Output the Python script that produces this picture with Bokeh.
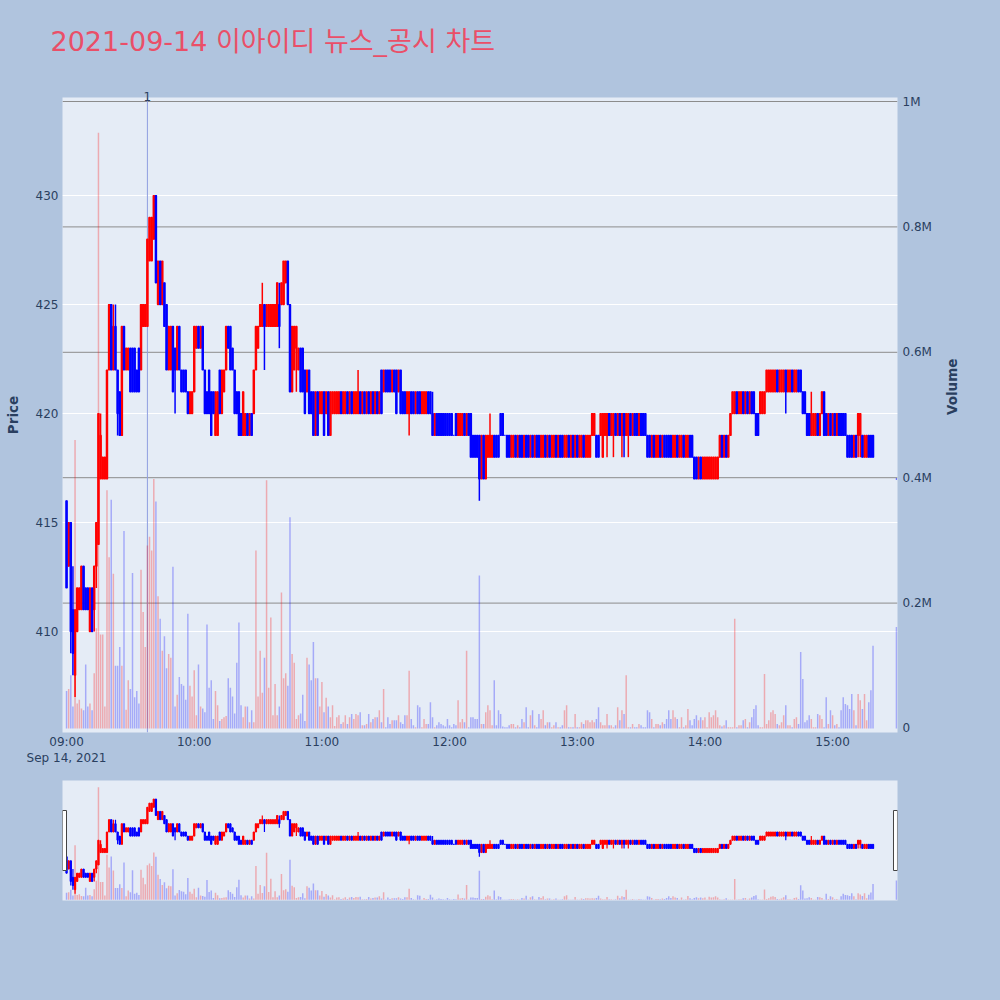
import calendar
import math
from datetime import datetime, timedelta
from bokeh.plotting import figure
from bokeh.layouts import column
from bokeh.models import (ColumnDataSource, Range1d, LinearAxis, FixedTicker,
                          DatetimeTickFormatter, Span)
from bokeh.embed import file_html
from bokeh.resources import INLINE

title_text = "2021-09-14 이아이디 뉴스_공시 차트"
session_start = "2021-09-14 09:00"
closing_time = "2021-09-14 15:30"

# one candle per minute from 09:00 to 15:19, plus the 15:30 closing auction
opens = [
    416,413,415,411,408,410,411,411,413,412, 412,410,412,411,413,414,417,417,417,417,
    422,425,422,424,422,421,419,424,422,422, 423,423,423,422,423,422,424,424,424,427,
    427,428,430,425,427,425,426,425,422,422, 424,423,422,424,422,422,422,421,420,420,
    421,423,424,423,424,422,421,422,421,421, 419,419,422,420,421,422,424,424,423,422,
    421,421,420,419,419,420,419,420,420,422, 423,424,424,425,424,424,424,424,424,424,
    425,425,425,426,427,425,421,422,423,422, 423,423,422,421,422,421,421,419,421,420,
    420,421,420,421,419,420,420,420,420,421, 420,420,421,420,421,420,420,420,421,420,
    421,420,421,420,421,420,421,420,422,421, 422,422,422,421,422,422,421,422,421,421,
    420,420,421,421,420,421,421,420,420,420, 421,421,420,419,420,420,420,420,420,420,
    420,420,419,420,419,419,419,420,419,420, 420,419,419,419,419,417,419,417,418,418,
    418,419,419,419,420,420,419,419,419,418, 418,419,418,419,419,418,419,419,418,419,
    418,419,419,418,418,419,418,419,418,418, 419,418,419,419,418,418,419,418,419,418,
    419,418,418,419,418,418,418,419,419,419, 419,419,418,419,419,420,419,419,420,419,
    420,419,420,419,419,420,419,420,420,419, 420,420,420,419,419,418,419,418,418,419,
    418,419,419,419,419,418,418,419,418,418, 419,418,418,419,419,418,418,417,418,417,
    417,417,417,417,417,417,417,418,419,418, 419,418,419,420,420,421,420,420,421,420,
    421,420,421,421,420,420,420,420,420,421, 421,421,421,421,422,421,421,421,422,421,
    421,422,421,421,422,422,421,421,420,420, 419,419,419,420,419,420,421,420,419,420,
    419,420,419,420,420,420,420,419,419,419, 418,419,419,419,419,418,418,419,419,419,
    417]
closes = [
    412,415,410,409,411,412,412,413,411,411, 411,412,410,413,415,420,419,418,418,422,
    425,422,424,422,420,419,424,422,423,423, 421,421,421,421,421,425,425,425,428,429,
    429,430,426,427,425,427,424,422,424,424, 421,422,424,422,421,421,421,420,421,421,
    424,424,423,424,422,420,420,420,419,420, 421,421,420,422,422,424,423,422,422,420,
    420,419,419,421,420,419,420,419,422,424, 424,425,425,424,425,425,425,425,425,426,
    424,426,427,427,425,421,424,424,424,423, 421,421,420,422,420,420,419,421,419,421,
    421,419,421,419,421,421,421,421,421,420, 421,421,420,421,420,421,421,421,420,421,
    420,421,420,421,420,421,420,421,420,422, 421,421,421,422,421,420,422,420,420,420,
    421,421,420,420,421,420,420,421,421,421, 420,420,419,420,419,419,419,419,419,419,
    419,419,419,419,420,420,420,419,420,419, 418,418,418,418,417,419,417,419,419,419,
    419,418,418,418,419,419,419,418,418,419, 419,418,419,418,418,419,418,418,419,418,
    419,418,418,419,419,418,419,418,419,419, 418,419,418,418,419,419,418,419,418,419,
    418,419,419,418,419,419,419,420,420,418, 418,420,420,420,420,419,420,420,419,420,
    419,420,419,420,420,419,420,419,419,420, 419,419,419,418,418,419,418,419,419,418,
    419,418,418,418,418,419,419,418,419,419, 418,419,419,418,418,417,417,418,417,418,
    418,418,418,418,418,418,418,419,418,419, 418,419,420,421,421,420,421,421,420,421,
    420,421,420,420,419,419,421,421,421,422, 422,422,422,422,421,422,422,422,421,422,
    422,421,422,422,421,421,420,420,419,419, 420,420,420,419,420,421,419,419,420,419,
    420,419,420,419,419,419,419,418,418,418, 419,418,420,420,418,419,419,418,418,418,
    417]
highs = [
    416,415,415,413,411,412,412,413,413,412, 412,412,412,413,415,420,420,418,418,422,
    425,425,425,425,422,421,424,424,423,423, 423,423,423,422,423,425,425,425,428,429,
    429,430,430,427,427,427,426,425,424,424, 424,423,424,424,422,422,422,421,421,421,
    424,424,424,424,424,422,421,422,421,421, 421,421,422,422,422,424,424,424,423,422,
    421,421,420,421,420,420,420,420,422,424, 424,425,426,425,425,425,425,425,425,426,
    426,426,427,427,427,425,424,424,424,423, 423,423,422,422,422,421,421,421,421,421,
    421,421,421,421,421,421,421,421,421,421, 421,421,421,421,421,421,421,422,421,421,
    421,421,421,421,421,421,421,421,422,422, 422,422,422,422,422,422,422,422,421,421,
    421,421,421,421,421,421,421,421,421,421, 421,421,421,420,420,420,420,420,420,420,
    420,420,419,420,420,420,420,420,420,420, 420,419,419,419,419,419,419,419,419,420,
    419,419,419,419,420,420,419,419,419,419, 419,419,419,419,419,419,419,419,419,419,
    419,419,419,419,419,419,419,419,419,419, 419,419,419,419,419,419,419,419,419,419,
    419,419,419,419,419,419,419,420,420,419, 419,420,420,420,420,420,420,420,420,420,
    420,420,420,420,420,420,420,420,420,420, 420,420,420,419,419,419,419,419,419,419,
    419,419,419,419,419,419,419,419,419,419, 419,419,419,419,419,418,418,418,418,418,
    418,418,418,418,418,418,418,419,419,419, 419,419,420,421,421,421,421,421,421,421,
    421,421,421,421,420,420,421,421,421,422, 422,422,422,422,422,422,422,422,422,422,
    422,422,422,422,422,422,421,421,420,420, 421,420,420,420,420,421,421,420,420,420,
    420,420,420,420,420,420,420,419,419,419, 419,419,420,420,419,419,419,419,419,419,
    417]
lows = [
    412,413,409,408,407,410,411,411,411,411, 411,410,410,410,412,414,417,417,417,417,
    422,422,422,422,419,419,419,422,422,422, 421,421,421,421,421,422,424,424,424,427,
    427,428,426,425,425,425,424,422,422,422, 421,420,422,422,421,421,421,420,420,420,
    421,423,423,423,422,420,420,420,419,420, 419,419,420,420,421,422,423,422,422,420,
    420,419,419,419,419,419,419,419,420,422, 423,424,424,422,424,424,424,424,424,424,
    423,425,425,426,425,421,421,422,421,422, 421,421,420,421,420,420,419,419,419,420,
    420,419,420,419,419,420,420,420,420,420, 420,420,420,420,420,420,420,420,420,420,
    420,420,420,420,420,420,420,420,420,421, 421,421,421,421,421,420,421,420,420,420,
    420,419,420,420,420,420,420,420,420,420, 420,420,419,419,419,419,419,419,419,419,
    419,419,419,419,419,419,419,419,419,419, 418,418,418,418,416,417,417,417,418,418,
    418,418,418,418,419,419,419,418,418,418, 418,418,418,418,418,418,418,418,418,418,
    418,418,418,418,418,418,418,418,418,418, 418,418,418,418,418,418,418,418,418,418,
    418,418,418,418,418,418,418,419,419,418, 418,419,418,419,418,419,419,418,419,419,
    419,418,418,419,418,419,419,419,419,419, 419,419,419,418,418,418,418,418,418,418,
    418,418,418,418,418,418,418,418,418,418, 418,418,418,418,418,417,417,417,417,417,
    417,417,417,417,417,417,417,418,418,418, 418,418,419,420,420,420,420,420,420,420,
    420,420,420,420,419,419,420,420,420,421, 421,421,421,421,421,421,421,421,420,421,
    421,421,421,421,421,421,420,420,419,419, 419,419,419,419,419,420,419,419,419,419,
    419,419,419,419,419,419,419,418,418,418, 418,418,418,418,418,418,418,418,418,418,
    417]
volumes_k = [
    60,63,85,35,460,40,46,32,29,102, 35,40,29,88,160,950,150,150,35,380,
    273,365,247,100,100,130,100,315,30,77, 63,248,50,60,40,253,186,130,292,306,
    284,398,362,211,175,124,147,96,119,113, 258,35,54,82,71,68,46,183,68,51,
    93,21,102,35,32,26,166,65,77,15, 60,37,12,15,18,20,80,65,51,24,
    105,169,37,18,35,35,10,29,10,284, 51,124,57,113,396,65,177,21,71,21,
    35,217,80,88,68,337,119,105,15,21, 24,54,12,113,102,77,138,80,80,35,
    74,26,49,35,18,37,4,18,21,7, 10,21,7,18,23,15,23,21,26,5,
    5,7,23,10,15,18,18,29,10,63, 2,18,7,13,13,13,21,10,7,21,
    21,92,15,5,2,37,34,2,15,7, 7,42,18,2,5,10,7,5,3,15,
    5,2,7,5,45,10,15,10,124,2, 18,18,15,15,244,7,7,26,37,29,
    5,77,5,29,23,3,2,2,5,7, 7,2,5,2,15,10,34,2,21,29,
    5,2,23,15,29,5,10,10,2,5, 10,2,2,5,29,37,2,2,2,23,
    2,2,10,7,13,13,10,13,10,15, 34,10,5,5,23,5,5,2,5,34,
    13,29,23,85,2,2,7,2,2,7, 5,2,2,29,26,15,2,7,7,5,
    10,7,15,29,15,29,18,15,2,18, 2,5,31,13,5,15,21,13,18,13,
    18,2,26,18,21,29,18,5,3,5, 13,2,2,2,175,2,5,5,13,15,
    2,10,18,31,37,5,2,2,87,7, 13,26,29,23,7,5,10,21,37,5,
    5,2,15,18,7,122,79,10,13,21, 15,2,2,23,21,15,2,50,7,29,
    21,5,7,2,29,50,39,37,31,55, 29,5,55,45,31,55,13,42,61,132,
    162]

news_times = ["2021-09-14 09:38"]
news_labels = ["1"]
price_ticks = [410, 415, 420, 425, 430]
volume_ticks = [0, 200000, 400000, 600000, 800000, 1000000]
volume_tick_labels = ["0", "0.2M", "0.4M", "0.6M", "0.8M", "1M"]
hour_ticks = ["09:00", "10:00", "11:00", "12:00", "13:00", "14:00", "15:00"]


def parse(s):
    return datetime.strptime(s, "%Y-%m-%d %H:%M")


def to_ms(d):
    return calendar.timegm(d.timetuple()) * 1000.0


MIN = 60000.0
t0 = parse(session_start)
n_cont = len(opens) - 1
times = [t0 + timedelta(minutes=i) for i in range(n_cont)] + [parse(closing_time)]
xs_ms = [to_ms(t) for t in times]
is_up = [c > o for o, c in zip(opens, closes)]


def make_src(flag):
    idx = [i for i in range(len(opens)) if is_up[i] == flag]
    return ColumnDataSource(dict(
        x=[xs_ms[i] for i in idx],
        top=[max(opens[i], closes[i]) for i in idx],
        bottom=[min(opens[i], closes[i]) for i in idx],
        high=[highs[i] for i in idx],
        low=[lows[i] for i in idx],
        vol=[volumes_k[i] * 1000 for i in idx],
    ))


up_src = make_src(True)
dn_src = make_src(False)

UP = "#FF0000"
DN = "#0000FF"
BG = "#B0C4DE"
PLOT_BG = "#E5ECF6"
TXT = "#2a3f5f"
FONT = "DejaVu Sans"

x_start = to_ms(t0) - 1.9 * MIN
x_end = to_ms(t0) + 390.5 * MIN
p_lo, p_hi = 405.37, 434.5
v_lo, v_hi = -6380, 1006380

# ---------------- title strip ----------------
p0 = figure(width=992, height=60, title=title_text,
            x_axis_location=None, y_axis_location=None,
            output_backend="svg", toolbar_location=None,
            min_border_left=62, min_border_right=95, min_border_top=56, min_border_bottom=0,
            background_fill_color=BG, border_fill_color=BG, outline_line_color=None)
p0.grid.visible = False
p0.title.text_font = "DejaVu Sans, Noto Sans CJK KR"
p0.title.text_font_size = "27px"
p0.title.text_font_style = "normal"
p0.title.text_color = "#EA4F68"
p0.title.align = "left"
p0.title.offset = -12
p0.title.standoff = 0

# ---------------- main chart ----------------
p = figure(width=992, height=710, x_axis_type="datetime", title=None,
           x_range=Range1d(x_start, x_end), y_range=Range1d(p_lo, p_hi),
           output_backend="svg", toolbar_location=None,
           min_border_left=62, min_border_right=95, min_border_top=37, min_border_bottom=38,
           background_fill_color=PLOT_BG, border_fill_color=BG, outline_line_color=None)
p.extra_y_ranges = {"vol": Range1d(v_lo, v_hi)}

p.xgrid.visible = False
p.ygrid.ticker = FixedTicker(ticks=price_ticks)
p.ygrid.grid_line_color = "white"
p.ygrid.grid_line_width = 1

for v in volume_ticks[1:]:
    p.add_layout(Span(location=v, dimension="width", y_range_name="vol",
                      line_color="#8c8c8c", line_width=1, level="underlay"))

news_ms = [to_ms(parse(t)) for t in news_times]
for tm in news_ms:
    p.add_layout(Span(location=tm, dimension="height", line_color="#8E9EE0",
                      line_width=1, level="underlay"))

for s, col in ((up_src, UP), (dn_src, DN)):
    p.vbar(x="x", top="vol", bottom=0, width=0.7 * MIN, source=s, y_range_name="vol",
           fill_color=col, fill_alpha=0.28, line_color=None)
for s, col in ((up_src, UP), (dn_src, DN)):
    p.segment(x0="x", y0="high", x1="x", y1="low", source=s, line_color=col, line_width=1.5)
    p.vbar(x="x", top="top", bottom="bottom", width=0.6 * MIN, source=s,
           fill_color=col, line_color=col, line_width=1.2)

# axes
time_axis = p.below[0]
ctx = DatetimeTickFormatter(hours="%b %d, %Y", hourmin="%b %d, %Y", minutes="%b %d, %Y",
                            minsec="%b %d, %Y", days="%b %d, %Y")
time_axis.ticker = FixedTicker(ticks=[to_ms(parse("2021-09-14 " + h)) for h in hour_ticks])
time_axis.formatter = DatetimeTickFormatter(hours="%H:%M", hourmin="%H:%M", minutes="%H:%M",
                                            context=ctx, context_which="start",
                                            context_location="below")
price_axis = p.left[0]
price_axis.ticker = FixedTicker(ticks=price_ticks)
price_axis.axis_label = "Price"

vol_axis = LinearAxis(y_range_name="vol", ticker=FixedTicker(ticks=volume_ticks),
                      axis_label="Volume",
                      major_label_overrides={v: s for v, s in zip(volume_ticks, volume_tick_labels)})
p.add_layout(vol_axis, "right")

for ax in (time_axis, price_axis, vol_axis):
    ax.axis_line_color = None
    ax.major_tick_line_color = None
    ax.minor_tick_line_color = None
    ax.major_label_text_color = TXT
    ax.major_label_text_font = FONT
    ax.major_label_text_font_size = "12px"
    ax.axis_label_text_color = TXT
    ax.axis_label_text_font = FONT
    ax.axis_label_text_font_size = "13.5px"
    ax.axis_label_text_font_style = "bold"
time_axis.major_label_standoff = -4
price_axis.major_label_standoff = -2
price_axis.axis_label_standoff = 12
vol_axis.major_label_standoff = -1
vol_axis.axis_label_standoff = 17
if "axis_label_orientation" in vol_axis.properties():
    vol_axis.axis_label_orientation = math.pi / 2

# news marker label above the plot
news_axis = LinearAxis(ticker=FixedTicker(ticks=news_ms),
                       major_label_overrides={int(tm): lab for tm, lab in zip(news_ms, news_labels)},
                       axis_line_color=None, major_tick_line_color=None,
                       minor_tick_line_color=None, major_label_standoff=-9,
                       major_label_text_font=FONT, major_label_text_font_size="12px",
                       major_label_text_color=TXT)
p.add_layout(news_axis, "above")

# ---------------- range slider ----------------
p2 = figure(width=992, height=210, x_range=Range1d(x_start, x_end), y_range=Range1d(p_lo, p_hi),
            x_axis_location=None, y_axis_location=None,
            output_backend="svg", toolbar_location=None,
            min_border_left=62, min_border_right=95, min_border_top=10, min_border_bottom=80,
            background_fill_color=PLOT_BG, border_fill_color=BG, outline_line_color=None)
p2.extra_y_ranges = {"vol": Range1d(v_lo, v_hi)}
p2.grid.visible = False
for s, col in ((up_src, UP), (dn_src, DN)):
    p2.vbar(x="x", top="vol", bottom=0, width=0.7 * MIN, source=s, y_range_name="vol",
            fill_color=col, fill_alpha=0.28, line_color=None)
for s, col in ((up_src, UP), (dn_src, DN)):
    p2.segment(x0="x", y0="high", x1="x", y1="low", source=s, line_color=col, line_width=1.2)
    p2.vbar(x="x", top="top", bottom="bottom", width=0.6 * MIN, source=s,
            fill_color=col, line_color=col, line_width=1.0)
handle_dx = 0.94 * MIN
p2.rect(x=[x_start + handle_dx, x_end - handle_dx], y=[(p_lo + p_hi) / 2] * 2,
        width=4, height=60, width_units="screen", height_units="screen",
        fill_color="white", line_color="#444444", line_width=1)

layout = column(p0, p, p2)
html = file_html(layout, INLINE, title="chart")
html = html.replace("</head>", "<style>html, body {background-color: #B0C4DE;}</style></head>", 1)
open("out.html", "w").write(html)
